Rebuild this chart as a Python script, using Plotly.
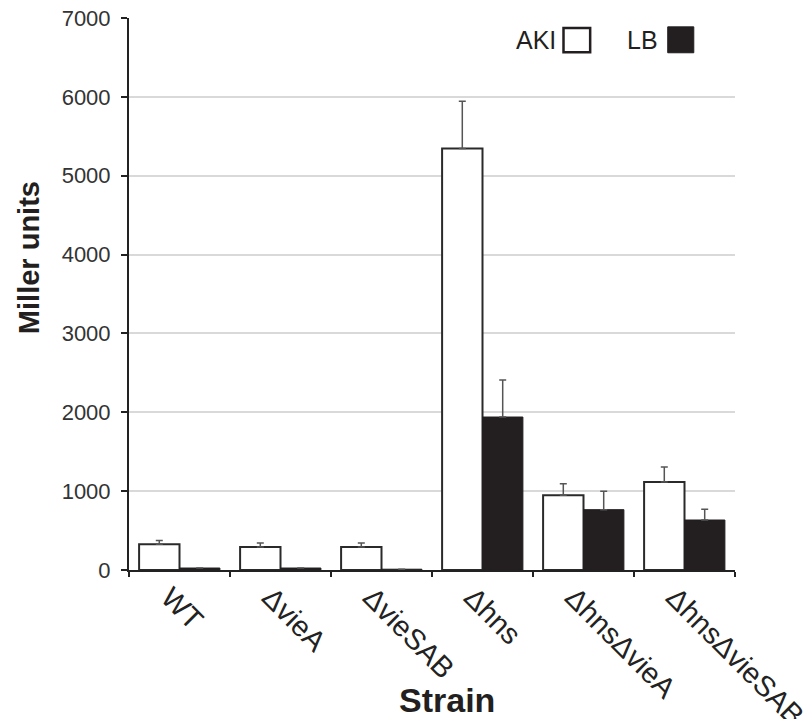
import plotly.graph_objects as go

# Strains and beta-galactosidase activity (Miller units)
strains = ["WT", "ΔvieA", "ΔvieSAB", "Δhns", "ΔhnsΔvieA", "ΔhnsΔvieSAB"]
aki_values = [326, 292, 292, 5345, 947, 1116]
aki_errors = [48, 50, 50, 600, 147, 190]
lb_values = [25, 25, 10, 1940, 765, 634]
lb_errors = [0, 0, 0, 470, 233, 136]
y_ticks = [0, 1000, 2000, 3000, 4000, 5000, 6000, 7000]

DARK = "#231f20"
ERR = "#555555"
FONT = "Liberation Sans, Arial, sans-serif"

fig = go.Figure()
fig.add_trace(go.Bar(
    name="AKI", x=strains, y=aki_values,
    marker=dict(color="white", line=dict(color="#2a2a2a", width=2)),
    error_y=dict(type="data", symmetric=False, array=aki_errors,
                 arrayminus=[0] * len(aki_errors),
                 color=ERR, thickness=1.5, width=3.5),
    showlegend=False,
))
fig.add_trace(go.Bar(
    name="LB", x=strains, y=lb_values,
    marker=dict(color=DARK, line=dict(color=DARK, width=1)),
    error_y=dict(type="data", symmetric=False, array=lb_errors,
                 arrayminus=[0] * len(lb_errors),
                 color=ERR, thickness=1.5, width=3.5),
    showlegend=False,
))

fig.update_layout(
    width=811, height=719,
    margin=dict(l=129, r=76, t=18, b=149),
    paper_bgcolor="white", plot_bgcolor="white",
    barmode="group", bargap=0.2, bargroupgap=0,
    font=dict(family=FONT, color="#333333"),
)

fig.update_xaxes(
    automargin=False,
    showline=True, linecolor="#222222", linewidth=2,
    ticks="outside", tickson="boundaries", ticklen=5, tickwidth=2,
    tickcolor="#222222", tickangle=45,
    ticklabelshift=-10, ticklabelstandoff=-3,
    tickfont=dict(size=29, color="#222222", family=FONT),
    showgrid=False,
)
fig.update_yaxes(
    automargin=False,
    range=[0, 7000], tickvals=y_ticks,
    showline=True, linecolor="#222222", linewidth=2,
    ticks="outside", ticklen=6, tickwidth=2, tickcolor="#222222",
    ticklabelstandoff=6,
    tickfont=dict(size=22, color="#333333", family=FONT),
    showgrid=True, gridcolor="#d9d9d9", gridwidth=1.5,
    zeroline=False,
)

# Axis titles
fig.add_annotation(
    text="<b>Miller units</b>", xref="paper", yref="paper",
    x=-0.165, y=0.565, xanchor="center", yanchor="middle",
    textangle=-90, showarrow=False,
    font=dict(size=29, color="#231f20", family=FONT),
)
fig.add_annotation(
    text="<b>Strain</b>", xref="paper", yref="paper",
    x=0.525, y=-0.235, xanchor="center", yanchor="middle",
    showarrow=False,
    font=dict(size=34, color="#231f20", family=FONT),
)

# Key: label followed by its swatch
fig.add_annotation(
    text="AKI", xref="paper", yref="paper", x=0.708, y=0.960,
    xanchor="right", yanchor="middle", showarrow=False,
    font=dict(size=25, color="#231f20", family=FONT),
)
fig.add_shape(
    type="rect", xref="paper", yref="paper",
    x0=0.717, x1=0.761, y0=0.938, y1=0.982,
    fillcolor="white", line=dict(color="#231f20", width=2.5),
)
fig.add_annotation(
    text="LB", xref="paper", yref="paper", x=0.876, y=0.960,
    xanchor="right", yanchor="middle", showarrow=False,
    font=dict(size=25, color="#231f20", family=FONT),
)
fig.add_shape(
    type="rect", xref="paper", yref="paper",
    x0=0.889, x1=0.932, y0=0.937, y1=0.984,
    fillcolor=DARK, line=dict(color=DARK, width=1),
)

fig.write_html("out.html")
